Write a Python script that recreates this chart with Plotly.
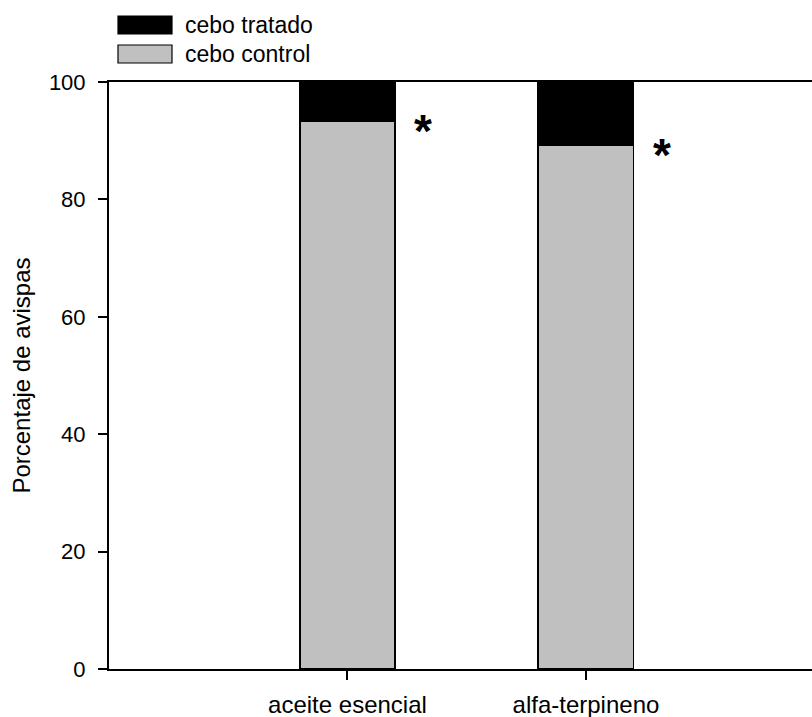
import plotly.graph_objects as go

categories = ["aceite esencial", "alfa-terpineno"]
control = [93.3, 89.3]
tratado = [6.7, 10.7]
series_names = ["cebo tratado", "cebo control"]
y_ticks = [0, 20, 40, 60, 80, 100]
significance = ["*", "*"]

FONT = "Liberation Sans, Arial, sans-serif"
GRAY = "#c0c0c0"

fig = go.Figure()
fig.add_trace(go.Bar(x=categories, y=control, name=series_names[1], width=0.4,
                     marker=dict(color=GRAY, line=dict(color="black", width=1.5))))
fig.add_trace(go.Bar(x=categories, y=tratado, name=series_names[0], width=0.4,
                     marker=dict(color="black", line=dict(color="black", width=1.5))))

for i, cat in enumerate(categories):
    fig.add_annotation(x=i + 0.318, y=control[i], xref="x", yref="y", text="<b>%s</b>" % significance[i],
                       showarrow=False, font=dict(family=FONT, size=46, color="black"),
                       xanchor="center", yanchor="middle", yshift=-10)

# manual legend
legend_items = [(series_names[0], "black", 16, 34), (series_names[1], GRAY, 45, 63)]
for name, col, y0, y1 in legend_items:
    fig.add_shape(type="rect", xref="paper", yref="paper",
                  x0=(118 - 109) / 703, x1=(172 - 109) / 703,
                  y0=1 + (82 - y1) / (669 - 82), y1=1 + (82 - y0) / (669 - 82),
                  fillcolor=col, line=dict(color="black", width=1.2))
    fig.add_annotation(xref="paper", yref="paper", x=(183 - 109) / 703,
                       y=1 + (82 - (y0 + y1) / 2) / (669 - 82), text=name, showarrow=False,
                       xanchor="left", yanchor="middle",
                       font=dict(family=FONT, size=23, color="black"))

fig.update_layout(
    width=812, height=717, barmode="stack", showlegend=False,
    plot_bgcolor="white", paper_bgcolor="white",
    margin=dict(l=109, r=0, t=82, b=48, pad=0),
    font=dict(family=FONT, color="black"),
)
fig.update_xaxes(type="category", range=[-1, 1.948], showline=True, linecolor="black", linewidth=2,
                 mirror=True, ticks="outside", ticklen=9, tickwidth=2, tickcolor="black",
                 showgrid=False, zeroline=False, tickfont=dict(size=24, family=FONT),
                 ticklabelstandoff=4, automargin=False)
fig.update_yaxes(range=[0, 100], tickvals=y_ticks, showline=True, linecolor="black", linewidth=2,
                 ticks="outside", ticklen=9, tickwidth=2, tickcolor="black", showgrid=False,
                 zeroline=False, tickfont=dict(size=22, family=FONT), ticklabelstandoff=8,
                 automargin=False,
                 title=dict(text="Porcentaje de avispas", font=dict(size=24, family=FONT), standoff=11))

fig.write_html("out.html", config={"displayModeBar": False},
               post_script="document.body.style.margin='0';document.body.style.overflow='hidden';")
